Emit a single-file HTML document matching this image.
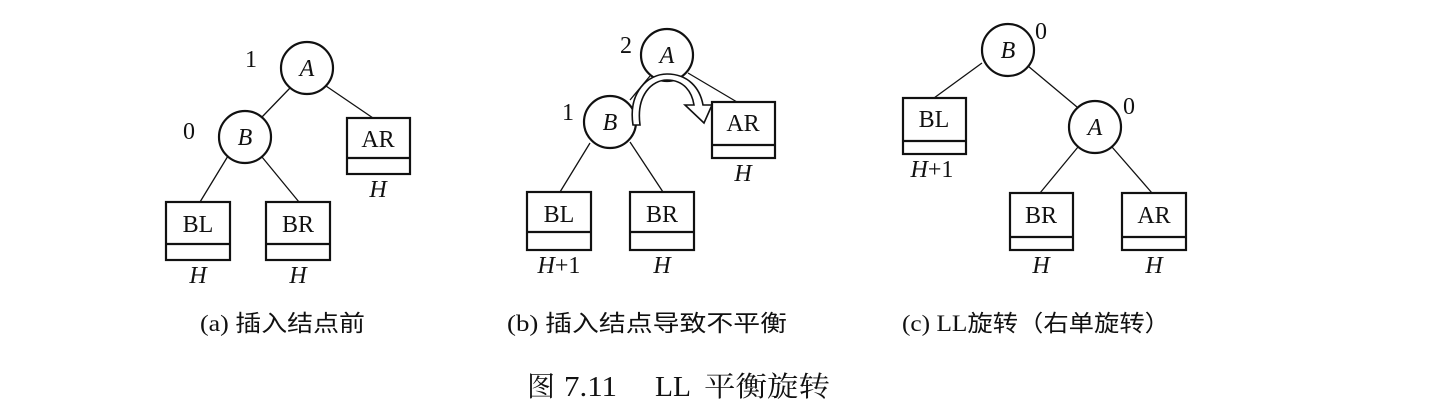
<!DOCTYPE html>
<html><head><meta charset="utf-8"><style>
html,body{margin:0;padding:0;background:#fff;}
svg{display:block;}
text{font-family:"Liberation Serif","Noto Serif CJK SC",serif;fill:#111;}
.i{font-style:italic;}
.cap{font-family:"Liberation Serif","Noto Sans CJK SC",sans-serif;font-size:23px;}
</style></head><body>
<svg width="1448" height="418" viewBox="0 0 1448 418" xmlns="http://www.w3.org/2000/svg">
<g stroke="#111" fill="none">
<line x1="290" y1="88" x2="262" y2="117" stroke-width="1.3"/>
<line x1="326" y1="86" x2="373" y2="118" stroke-width="1.3"/>
<line x1="228" y1="156" x2="200" y2="202" stroke-width="1.3"/>
<line x1="262" y1="157" x2="299" y2="202" stroke-width="1.3"/>
<line x1="650" y1="76" x2="630" y2="100" stroke-width="1.3"/>
<line x1="688" y1="73" x2="737" y2="102" stroke-width="1.3"/>
<line x1="590" y1="143" x2="560" y2="192" stroke-width="1.3"/>
<line x1="630" y1="142" x2="663" y2="192" stroke-width="1.3"/>
<line x1="982" y1="63" x2="934" y2="98" stroke-width="1.3"/>
<line x1="1028" y1="66" x2="1077" y2="107" stroke-width="1.3"/>
<line x1="1078" y1="147" x2="1040" y2="193" stroke-width="1.3"/>
<line x1="1112" y1="147" x2="1152" y2="193" stroke-width="1.3"/>
<g stroke-width="2.2" fill="#fff">
<circle cx="307" cy="68" r="26"/>
<circle cx="245" cy="137" r="26"/>
<circle cx="667" cy="55" r="26"/>
<circle cx="610" cy="122" r="26"/>
<circle cx="1008" cy="50" r="26"/>
<circle cx="1095" cy="127" r="26"/>
</g>
<g stroke-width="2.2" fill="#fff">
<rect x="347" y="118" width="63" height="56"/>
<rect x="166" y="202" width="64" height="58"/>
<rect x="266" y="202" width="64" height="58"/>
<rect x="712" y="102" width="63" height="56"/>
<rect x="527" y="192" width="64" height="58"/>
<rect x="630" y="192" width="64" height="58"/>
<rect x="903" y="98" width="63" height="56"/>
<rect x="1010" y="193" width="63" height="57"/>
<rect x="1122" y="193" width="64" height="57"/>
</g>
<g stroke-width="2.2">
<line x1="347" y1="158" x2="410" y2="158"/>
<line x1="166" y1="244" x2="230" y2="244"/>
<line x1="266" y1="244" x2="330" y2="244"/>
<line x1="712" y1="145" x2="775" y2="145"/>
<line x1="527" y1="232" x2="591" y2="232"/>
<line x1="630" y1="232" x2="694" y2="232"/>
<line x1="903" y1="141" x2="966" y2="141"/>
<line x1="1010" y1="237" x2="1073" y2="237"/>
<line x1="1122" y1="237" x2="1186" y2="237"/>
</g>
<path d="M640,125 C636,95 652,80 667,80 C684,80 692,92 694,105 L685,105 L704,123 L712,105 L703,105 C700,88 688,74 667,74 C648,74 628,92 633,125 Z" stroke-width="1.6" fill="#fff"/>
</g>
<g font-size="24" text-anchor="middle">
<text x="307" y="76" class="i">A</text>
<text x="245" y="145" class="i">B</text>
<text x="667" y="63" class="i">A</text>
<text x="610" y="130" class="i">B</text>
<text x="1008" y="58" class="i">B</text>
<text x="1095" y="135" class="i">A</text>
<text x="378" y="147">AR</text>
<text x="198" y="232">BL</text>
<text x="298" y="232">BR</text>
<text x="743" y="131">AR</text>
<text x="559" y="222">BL</text>
<text x="662" y="222">BR</text>
<text x="934" y="127">BL</text>
<text x="1041" y="223">BR</text>
<text x="1154" y="223">AR</text>
<text x="378" y="197" class="i">H</text>
<text x="198" y="283" class="i">H</text>
<text x="298" y="283" class="i">H</text>
<text x="743" y="181" class="i">H</text>
<text x="559" y="273" class="i">H<tspan font-style="normal">+1</tspan></text>
<text x="662" y="273" class="i">H</text>
<text x="932" y="177" class="i">H<tspan font-style="normal">+1</tspan></text>
<text x="1041" y="273" class="i">H</text>
<text x="1154" y="273" class="i">H</text>
<text x="251" y="67">1</text>
<text x="189" y="139">0</text>
<text x="626" y="53">2</text>
<text x="568" y="120">1</text>
<text x="1041" y="39">0</text>
<text x="1129" y="114">0</text>
</g>
<text class="cap" x="200" y="331" textLength="165" lengthAdjust="spacingAndGlyphs">(a) 插入结点前</text>
<text class="cap" x="507" y="331" textLength="280" lengthAdjust="spacingAndGlyphs">(b) 插入结点导致不平衡</text>
<text class="cap" x="902" y="331" textLength="268" lengthAdjust="spacingAndGlyphs">(c) LL旋转（右单旋转）</text>
<g font-size="28">
<text x="527" y="396">图</text>
<text x="564" y="396" textLength="53" lengthAdjust="spacingAndGlyphs">7.11</text>
<text x="655" y="396" textLength="36" lengthAdjust="spacingAndGlyphs">LL</text>
<text x="704" y="396" textLength="126" lengthAdjust="spacingAndGlyphs">平衡旋转</text>
</g>
</svg>
</body></html>
